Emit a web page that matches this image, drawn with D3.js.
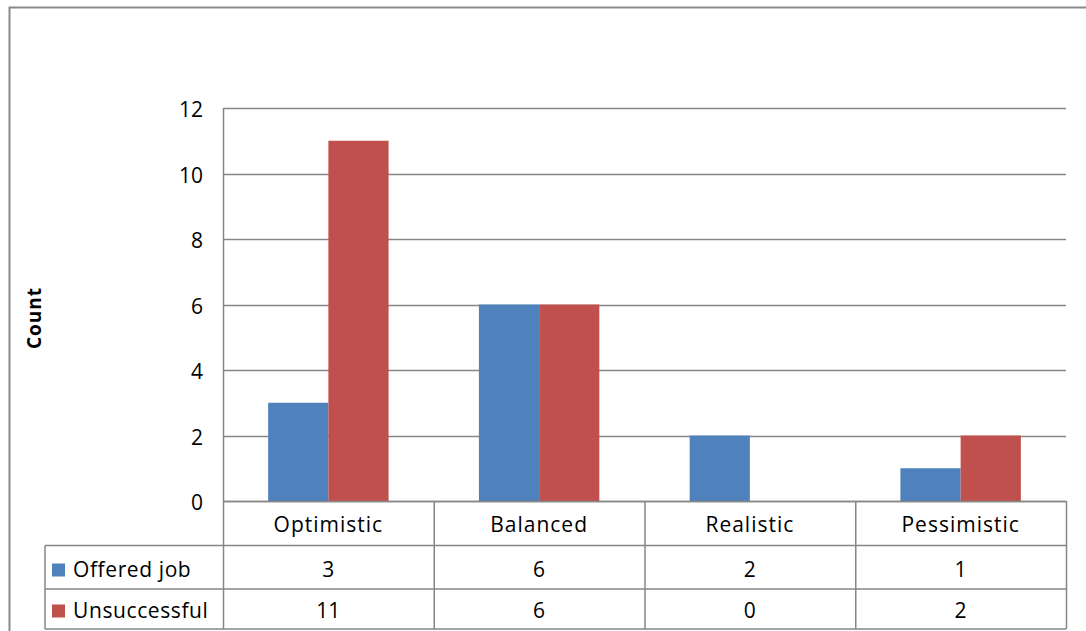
<!DOCTYPE html>
<html>
<head>
<meta charset="utf-8">
<script src="https://cdn.jsdelivr.net/npm/d3@7"></script>
<style>
  html, body { margin: 0; padding: 0; background: #fff; }
  svg { display: block; font-family: "Open Sans", "Noto Sans", sans-serif; }
</style>
</head>
<body>
<svg id="chart" width="1086" height="631"></svg>
<script>
// Categories, series and tick values
const categories = ["Optimistic", "Balanced", "Realistic", "Pessimistic"];
const seriesNames = ["Offered job", "Unsuccessful"];
const offeredJob = [3, 6, 2, 1];
const unsuccessful = [11, 6, 0, 2];
const yTicks = [0, 2, 4, 6, 8, 10, 12];
const yAxisTitle = "Count";

const seriesValues = [offeredJob, unsuccessful];
const colors = ["#4F81BD", "#C0504D"];
const gridColor = "#868686";

const svg = d3.select("#chart");

// Plot area geometry
const plot = { left: 223, right: 1066, top: 108, bottom: 501 };
const tableRows = [501, 545.5, 589, 629];
const rowBaselines = [531.5, 577, 618];
const legendLeft = 45;

// Outer chart frame
svg.append("rect")
  .attr("x", 9.5).attr("y", 7.5)
  .attr("width", 1100).attr("height", 660)
  .attr("fill", "none").attr("stroke", "#8a8a8a").attr("stroke-width", 2);

const x = d3.scaleBand().domain(categories).range([plot.left, plot.right]).paddingInner(0).paddingOuter(0);
// Gap of 150% of a bar width inside each category
const barW = x.bandwidth() / 3.5;
const xs = d3.scaleBand().domain(seriesNames).range([0.75 * barW, 2.75 * barW]);

const y = d3.scaleLinear().domain([0, 12]).range([plot.bottom, plot.top]);

// Horizontal gridlines
svg.append("g").selectAll("line").data(yTicks).join("line")
  .attr("x1", plot.left).attr("x2", plot.right)
  .attr("y1", d => Math.round(y(d)) + 0.5).attr("y2", d => Math.round(y(d)) + 0.5)
  .attr("stroke", gridColor).attr("stroke-width", 1.5);

// Y axis line
svg.append("line")
  .attr("x1", plot.left + 0.5).attr("x2", plot.left + 0.5)
  .attr("y1", plot.top).attr("y2", plot.bottom)
  .attr("stroke", gridColor).attr("stroke-width", 1.5);

// Y tick labels
svg.append("g").selectAll("text").data(yTicks).join("text")
  .attr("x", 203).attr("y", d => y(d) + 9)
  .attr("text-anchor", "end")
  .attr("font-size", 21)
  .attr("fill", "#000")
  .text(d => d);

// Y axis title
svg.append("text")
  .attr("transform", "translate(41,318) rotate(-90)")
  .attr("text-anchor", "middle")
  .attr("font-size", 19)
  .attr("font-weight", "bold")
  .attr("letter-spacing", 1)
  .text(yAxisTitle);

// Bars
const groups = svg.append("g").selectAll("g").data(seriesNames).join("g")
  .attr("fill", (d, i) => colors[i]);
groups.selectAll("rect")
  .data((s, si) => categories.map((c, ci) => ({ c, s, v: seriesValues[si][ci] })))
  .join("rect")
  .attr("x", d => x(d.c) + xs(d.s))
  .attr("width", xs.bandwidth())
  .attr("y", d => y(d.v))
  .attr("height", d => y(0) - y(d.v));

// Data table grid
const tbl = svg.append("g").attr("stroke", gridColor).attr("stroke-width", 1.5).attr("fill", "none");
tbl.append("line").attr("x1", plot.left).attr("x2", plot.right).attr("y1", tableRows[0] + 0.5).attr("y2", tableRows[0] + 0.5);
[1, 2, 3].forEach(i => {
  tbl.append("line").attr("x1", legendLeft).attr("x2", plot.right)
    .attr("y1", tableRows[i]).attr("y2", tableRows[i]);
});
const colEdges = categories.map(c => x(c)).concat([plot.right]);
colEdges.forEach(cx => {
  tbl.append("line").attr("x1", cx + 0.5).attr("x2", cx + 0.5)
    .attr("y1", tableRows[0]).attr("y2", tableRows[3]);
});
tbl.append("line").attr("x1", legendLeft).attr("x2", legendLeft)
  .attr("y1", tableRows[1]).attr("y2", tableRows[3]);

// Category labels
svg.append("g").selectAll("text").data(categories).join("text")
  .attr("x", d => x(d) + x.bandwidth() / 2)
  .attr("y", rowBaselines[0])
  .attr("text-anchor", "middle")
  .attr("font-size", 21)
  .attr("letter-spacing", 1)
  .text(d => d);

// Series rows: legend keys and values
seriesNames.forEach((name, si) => {
  const base = rowBaselines[si + 1];
  svg.append("rect")
    .attr("x", 52).attr("y", base - 13.5)
    .attr("width", 13).attr("height", 13)
    .attr("fill", colors[si]);
  svg.append("text")
    .attr("x", 73).attr("y", base)
    .attr("font-size", 21)
    .attr("letter-spacing", 0.6)
    .text(name);
  svg.append("g").selectAll("text").data(seriesValues[si]).join("text")
    .attr("x", (d, ci) => x(categories[ci]) + x.bandwidth() / 2)
    .attr("y", base)
    .attr("text-anchor", "middle")
    .attr("font-size", 21)
    .text(d => d);
});
</script>
</body>
</html>
